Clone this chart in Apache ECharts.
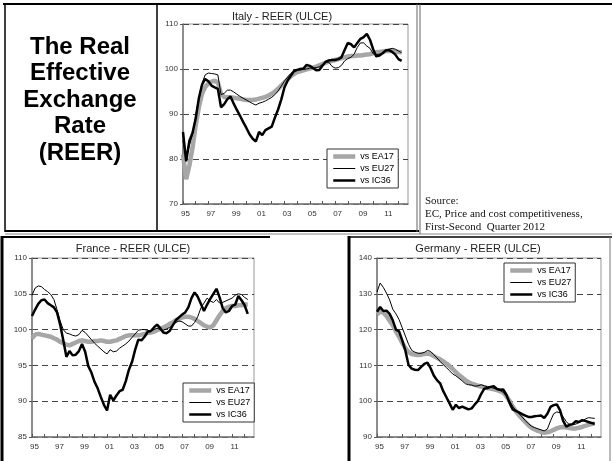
<!DOCTYPE html>
<html>
<head>
<meta charset="utf-8">
<script src="https://cdn.jsdelivr.net/npm/echarts@6/dist/echarts.min.js"></script>
<style>
html, body { margin: 0; padding: 0; background: #fff; }
#chart { width: 612px; height: 461px; }
</style>
</head>
<body>
<div id="chart"></div>
<script>
// quarterly axis, 1995Q1 .. 2012Q4
const years = [1995, 1996, 1997, 1998, 1999, 2000, 2001, 2002, 2003, 2004, 2005, 2006, 2007, 2008, 2009, 2010, 2011, 2012]
const quarters = []
years.forEach(y => ['Q1', 'Q2', 'Q3', 'Q4'].forEach(q => quarters.push(y + q)))

const seriesNames = ['vs EA17', 'vs EU27', 'vs IC36']

// Italy - REER (ULCE), 1995Q1 .. 2012Q2
const italyEA17 = [81, 75.5, 78.5, 82.5, 87.5, 91.5, 94.5, 96, 96.8, 97.2, 97.4, 97, 94.5, 93.8, 93.7, 93.7, 93.6, 93.5, 93.4, 93.2,
  93.1, 93.1, 93.1, 93.2, 93.4, 93.6, 93.8, 94.1, 94.5, 95, 95.6, 96.3, 97, 97.7, 98.4, 98.9, 99.3, 99.5, 99.7, 99.9,
  100.1, 100.3, 100.5, 100.8, 101.1, 101.4, 101.6, 101.8, 102, 102.2, 102.4, 102.6, 102.8, 102.9, 102.9, 103, 103, 103.1, 103.2, 103.3,
  103.5, 103.7, 103.8, 103.9, 104, 104, 104, 103.9, 103.8, 103.7]
const italyEU27 = [84, 80, 83, 85.5, 89.5, 93.5, 96.8, 98.7, 99.1, 99, 98.9, 98.7, 94.3, 94.6, 95.3, 95.3, 94.9, 94.4, 93.9, 93.5,
  93.1, 92.7, 92.3, 92, 92.4, 92.6, 92.9, 93.3, 93.7, 94.3, 95.1, 96.2, 97.3, 98.2, 99, 99.6, 99.8, 99.8, 99.9, 100,
  100.2, 100.2, 100.3, 100.5, 101, 101.5, 101.5, 100.6, 100.2, 100.3, 100.8, 101.8, 102.3, 102.6, 103.3, 104.8, 105.8, 105.8, 105.1, 104.6,
  103.4, 103.2, 103.3, 103.6, 104.2, 104.4, 104.6, 104.4, 104, 103.6]
const italyIC36 = [86, 79.5, 84, 85.8, 89, 93.5, 96.5, 97.8, 97.3, 96.3, 95.9, 95.6, 91.5, 92.2, 93.3, 93.9, 92.3, 90.9, 89.6, 88.2,
  86.9, 85.5, 84.5, 83.9, 86, 85.3, 86.4, 86.8, 87.2, 89.2, 91, 93.2, 95.9, 97.4, 98.5, 99.5, 99.8, 100, 100.1, 100.9,
  100.7, 100.2, 99.7, 99.8, 100.7, 101.6, 101.9, 102, 102, 102.2, 102.6, 104.2, 105.8, 105.5, 104.8, 105.8, 106.7, 107.1, 107.8, 106.5,
  104.4, 102.8, 103, 103.5, 104.1, 104.2, 103.8, 103.2, 102.2, 101.8]

// France - REER (ULCE)
const franceEA17 = [98.8, 99.3, 99.4, 99.3, 99.2, 99.1, 99, 98.8, 98.6, 98.3, 98.1, 97.9, 97.8, 98, 98.2, 98.4, 98.5, 98.4, 98.3, 98.3,
  98.4, 98.4, 98.5, 98.4, 98.3, 98.3, 98.4, 98.5, 98.7, 98.9, 99.1, 99.2, 99.2, 99.2, 99.2, 99.3, 99.4, 99.5, 99.6, 99.7,
  99.9, 100.1, 100.3, 100.5, 100.8, 101, 101.3, 101.5, 101.7, 101.8, 101.8, 101.7, 101.5, 101.2, 100.9, 100.6, 100.4, 100.3, 100.6, 101.3,
  102, 102.6, 103, 103.2, 103.3, 103.3, 103.4, 103.4, 103.5, 103.5]
const franceEU27 = [104.8, 105.8, 106.1, 106, 105.6, 105.3, 104.9, 104.2, 102.8, 101.2, 100, 99.5, 99.4, 99.2, 99.1, 99.3, 99.9, 99.6, 99.1, 98.6,
  98.1, 97.7, 97.3, 96.9, 96.6, 97.2, 96.9, 97, 97.4, 97.7, 98, 98.4, 98.9, 99.4, 99.9, 100, 100, 99.9, 99.8, 100,
  100.2, 100, 99.9, 100.1, 100.3, 100.6, 101, 101.2, 101.1, 100.8, 100.5, 100.5, 101, 101.8, 103, 103.7, 104.4, 104, 103.8, 104.2,
  103.7, 103.8, 104, 104.2, 104.4, 104.8, 105, 104.9, 104.5, 104.2]
const franceIC36 = [101.9, 102.8, 103.6, 104.1, 104.2, 103.7, 103.4, 103.1, 102.4, 100.7, 98.5, 96.2, 97, 96.4, 96.5, 97, 98, 96.9, 94.9, 94,
  92.7, 91.8, 90.6, 89.5, 88.7, 90.9, 90.1, 90.8, 91.4, 91.6, 92.8, 94.4, 95.5, 97.2, 98.6, 98.5, 99, 99.7, 99.8, 100.3,
  100.7, 100.2, 99.6, 99.5, 99.8, 100.6, 101.3, 101.7, 102.1, 102.4, 103.1, 104.4, 105.2, 104.6, 103.6, 102.6, 103.5, 104.3, 105, 105.7,
  104.5, 103, 102.4, 102.6, 103.3, 103.5, 104.7, 104.1, 103.4, 102.2]

// Germany - REER (ULCE)
const germanyEA17 = [124.3, 125, 124.8, 123.8, 122.5, 121.2, 119.5, 118, 116.3, 114.8, 113.7, 113.2, 113, 112.9, 113, 113.2, 113.3, 113.1, 112.6, 112.1,
  111.7, 111.1, 110.5, 109.8, 109, 108.1, 107.3, 106.6, 105.9, 105.3, 104.9, 104.6, 104.3, 104.1, 103.9, 103.7, 103.5, 103.3, 103.1, 102.8,
  102.4, 101.4, 100.1, 98.5, 97.2, 96.1, 95.1, 94.2, 93.3, 92.6, 92.1, 91.7, 91.4, 91.2, 91.3, 91.6, 92, 92.4, 92.7, 92.8,
  92.7, 92.5, 92.4, 92.4, 92.6, 92.8, 93.1, 93.4, 93.6, 93.8]
const germanyEU27 = [130.5, 133, 131.8, 130.2, 128.3, 125.7, 124.4, 122.8, 120.5, 118.2, 115.9, 114.2, 113.7, 113.4, 113.4, 113.6, 114.2, 113.9, 113, 112.1,
  111.1, 110.2, 109.4, 108.5, 107.6, 107.1, 106.4, 105.7, 104.9, 104.6, 104.5, 104.2, 104.3, 104.6, 104.3, 104, 103.9, 103.6, 103.4, 103,
  102.5, 101.4, 100.1, 98.6, 97.4, 96.5, 95.6, 94.6, 93.7, 93, 92.6, 92.3, 92, 91.7, 92.2, 94.5, 96.5, 97, 96.8, 95.6,
  94.3, 93.4, 93.4, 93.6, 94, 94.4, 95, 95.4, 95.3, 95.2]
const germanyIC36 = [125, 126.3, 125.2, 125.3, 124.4, 122.6, 120, 119.5, 117, 114.1, 110.1, 109.1, 108.8, 108.7, 109.6, 110.4, 110.8, 109.2, 107.2, 105.9,
  105, 102.8, 101.1, 99.4, 97.6, 99, 98.1, 98.5, 98.1, 97.7, 98, 99.1, 100.1, 102, 103.5, 103.7, 104, 104.2, 103.4, 103.2,
  103.3, 101.8, 99.6, 97.7, 97.3, 96.9, 96.4, 96, 95.6, 95.6, 95.8, 95.9, 96, 95.3, 96.5, 98.4, 98.9, 99.1, 97.5, 94.5,
  92.9, 93.4, 93.6, 94.4, 94.2, 94.7, 94.5, 94.2, 93.9, 93.7]

const FONT = 'Liberation Sans, Arial, sans-serif'
const chart = echarts.init(document.getElementById('chart'))

const panels = [
  { title: 'Italy - REER (ULCE)', titleX: 282, titleY: 11, grid: { left: 183, top: 24, width: 225, height: 180 }, min: 70, max: 110, step: 10,
    legend: { left: 327, top: 149 }, data: [italyEA17, italyEU27, italyIC36] },
  { title: 'France - REER (ULCE)', titleX: 133, titleY: 243, grid: { left: 32, top: 258, width: 222, height: 179 }, min: 85, max: 110, step: 5,
    legend: { left: 183, top: 383 }, data: [franceEA17, franceEU27, franceIC36] },
  { title: 'Germany - REER (ULCE)', titleX: 478, titleY: 243, grid: { left: 377, top: 258, width: 224, height: 179 }, min: 90, max: 140, step: 10,
    legend: { left: 504, top: 263 }, data: [germanyEA17, germanyEU27, germanyIC36] },
]

const lineStyles = [
  { color: '#a6a6a6', width: 4.5 },
  { color: '#000', width: 1 },
  { color: '#000', width: 2.5 },
]

const seriesList = []
panels.forEach((p, i) => {
  p.data.forEach((vals, k) => {
    seriesList.push({
      name: seriesNames[k],
      type: 'line',
      xAxisIndex: i,
      yAxisIndex: i,
      data: vals,
      symbol: 'none',
      smooth: false,
      lineStyle: lineStyles[k],
      itemStyle: { color: lineStyles[k].color },
      z: 2 + k,
    })
  })
})

function line(x1, y1, x2, y2, color, width) {
  return { type: 'line', shape: { x1, y1, x2, y2 }, style: { stroke: color, lineWidth: width }, silent: true }
}

chart.setOption({
  animation: false,
  backgroundColor: '#fff',
  title: panels.map(p => ({
    text: p.title,
    left: p.titleX,
    top: p.titleY,
    textAlign: 'center',
    padding: 0,
    textStyle: { fontSize: 11, fontWeight: 'normal', color: '#222', fontFamily: FONT },
  })),
  legend: panels.map(p => ({
    data: seriesNames.map((name, k) => ({
      name,
      itemStyle: { opacity: 0 },
      lineStyle: { color: lineStyles[k].color, width: lineStyles[k].width, opacity: 1 },
    })),
    orient: 'vertical',
    left: p.legend.left,
    top: p.legend.top,
    padding: [3, 4],
    itemGap: 3,
    itemWidth: 22,
    itemHeight: 10,
    borderColor: '#333',
    borderWidth: 1,
    backgroundColor: '#fff',
    textStyle: { fontSize: 9, color: '#000', fontFamily: FONT },
    selectedMode: false,
  })),
  grid: panels.map(p => ({
    ...p.grid,
    show: true,
    borderColor: '#999',
    borderWidth: 1,
    outerBoundsMode: 'none',
  })),
  xAxis: panels.map((p, i) => ({
    type: 'category',
    gridIndex: i,
    data: quarters,
    boundaryGap: false,
    axisLine: { lineStyle: { color: '#777', width: 1.5 } },
    axisTick: { inside: true, length: 3, interval: idx => idx % 4 === 0, lineStyle: { color: '#555' } },
    axisLabel: {
      interval: idx => idx % 8 === 0,
      formatter: v => v.slice(2, 4),
      fontSize: 8,
      color: '#333',
      margin: 6,
      padding: [0, 0, 0, 5],
      fontFamily: FONT,
    },
    splitLine: { show: false },
  })),
  yAxis: panels.map((p, i) => ({
    type: 'value',
    gridIndex: i,
    min: p.min,
    max: p.max,
    interval: p.step,
    axisLine: { show: true, lineStyle: { color: '#777', width: 1.5 } },
    axisTick: { show: true, length: 3, lineStyle: { color: '#555' } },
    axisLabel: { fontSize: 8, color: '#333', margin: 5, fontFamily: FONT },
    splitLine: { show: true, lineStyle: { color: '#444', type: [6, 4], width: 1 } },
  })),
  series: seriesList,
  graphic: [
    // panel frames
    line(3, 4, 612, 4, '#000', 2),
    line(5, 4, 5, 232, '#000', 1.5),
    line(157, 4, 157, 232, '#000', 1.5),
    line(5, 231, 419, 231, '#000', 2),
    line(5, 234, 612, 234, '#888', 1),
    line(417, 4, 417, 232, '#666', 1),
    line(420, 4, 420, 234, '#666', 1),
    line(2, 236, 2, 461, '#000', 3),
    line(2, 237, 270, 237, '#000', 2),
    line(349, 236, 349, 461, '#000', 3),
    line(349, 237, 612, 237, '#000', 1.5),
    line(610, 237, 610, 461, '#777', 1),
    {
      type: 'text',
      x: 80,
      y: 100,
      silent: true,
      style: {
        text: 'The Real\nEffective\nExchange\nRate\n(REER)',
        align: 'center',
        verticalAlign: 'middle',
        fontSize: 24,
        fontWeight: 'bold',
        lineHeight: 26.5,
        fontFamily: FONT,
        fill: '#000',
      },
    },
    {
      type: 'text',
      x: 425,
      y: 194,
      silent: true,
      style: {
        text: 'Source:\nEC, Price and cost competitiveness,\nFirst-Second  Quarter 2012',
        align: 'left',
        verticalAlign: 'top',
        fontSize: 11,
        lineHeight: 13.3,
        fontFamily: 'Liberation Serif, Times New Roman, serif',
        fill: '#111',
      },
    },
  ],
})
</script>
</body>
</html>
